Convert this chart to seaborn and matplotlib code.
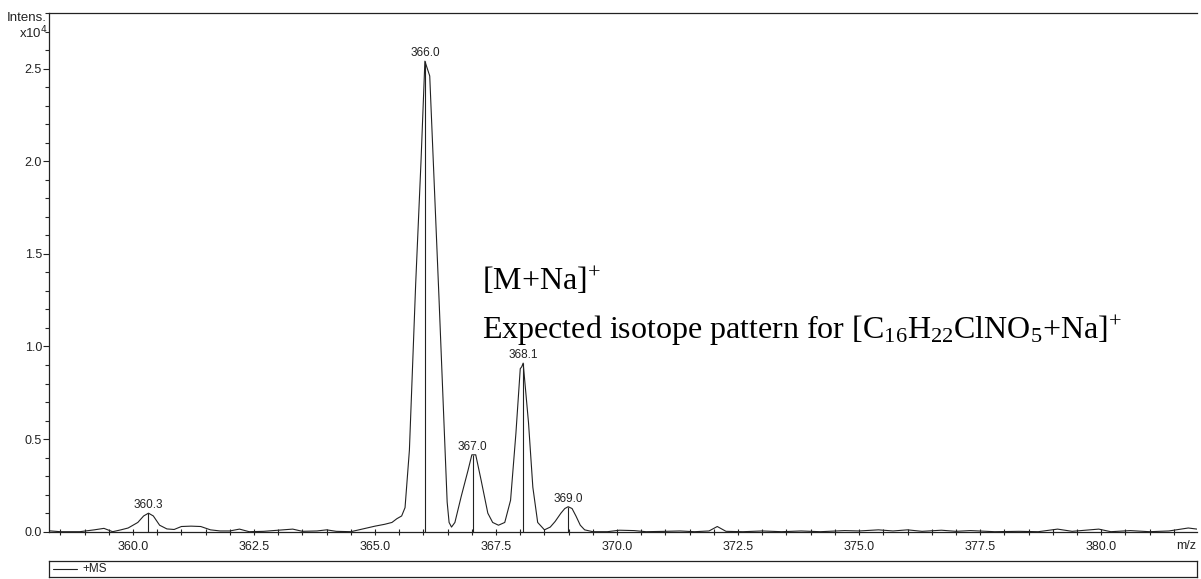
import numpy as np
import pandas as pd
import seaborn as sns
import matplotlib
matplotlib.use("Agg")
import matplotlib.pyplot as plt
from matplotlib.ticker import MultipleLocator, FormatStrFormatter

# ---- data (m/z, intensity x10^4) ----
mz = [358.26, 358.5, 358.9, 359.2, 359.4, 359.58, 359.75, 359.9, 360.1, 360.22,
      360.32, 360.42, 360.55, 360.7, 360.85, 361.0, 361.2, 361.4, 361.6, 361.8,
      362.0, 362.2, 362.4, 362.7, 362.9, 363.1, 363.3, 363.5, 363.8, 364.0,
      364.2, 364.5, 364.75, 365.0, 365.2, 365.35, 365.45, 365.55, 365.62, 365.71,
      365.84, 365.95, 366.03, 366.08, 366.13, 366.32, 366.43, 366.49, 366.53, 366.58,
      366.65, 366.78, 366.92, 367.0, 367.08, 367.19, 367.33, 367.43, 367.55, 367.68,
      367.8, 367.91, 368.0, 368.03, 368.06, 368.17, 368.26, 368.36, 368.50, 368.62,
      368.72, 368.84, 368.92, 368.99, 369.07, 369.15, 369.24, 369.33, 369.5, 369.8,
      370.05, 370.35, 370.6, 371.0, 371.3, 371.6, 371.9, 372.07, 372.25, 372.6,
      373.0, 373.4, 373.8, 374.2, 374.7, 375.0, 375.4, 375.7, 376.0, 376.3,
      376.7, 377.0, 377.3, 377.8, 378.3, 378.7, 379.1, 379.4, 379.95, 380.2,
      380.6, 381.0, 381.4, 381.8, 382.1]
intensity = [0.005, 0.0, 0.0, 0.01, 0.018, 0.0, 0.01, 0.02, 0.05, 0.085,
             0.10, 0.085, 0.035, 0.015, 0.012, 0.028, 0.03, 0.028, 0.01, 0.004,
             0.004, 0.014, 0.0, 0.002, 0.006, 0.01, 0.014, 0.002, 0.004, 0.01,
             0.002, 0.0, 0.015, 0.03, 0.04, 0.05, 0.07, 0.085, 0.13, 0.44,
             1.34, 2.0, 2.54, 2.50, 2.46, 1.27, 0.55, 0.16, 0.05, 0.025,
             0.05, 0.19, 0.33, 0.415, 0.415, 0.28, 0.10, 0.05, 0.035, 0.05,
             0.17, 0.53, 0.88, 0.89, 0.91, 0.59, 0.24, 0.05, 0.01, 0.025,
             0.055, 0.10, 0.125, 0.135, 0.125, 0.085, 0.035, 0.01, 0.0, 0.0,
             0.008, 0.006, 0.0, 0.002, 0.004, 0.0, 0.004, 0.028, 0.002, 0.0,
             0.004, 0.0, 0.004, 0.0, 0.006, 0.004, 0.01, 0.004, 0.01, 0.002,
             0.008, 0.002, 0.006, 0.0, 0.002, 0.0, 0.014, 0.002, 0.014, 0.0,
             0.006, 0.0, 0.004, 0.02, 0.01]

peak_mz = [360.32, 366.03, 367.02, 368.06, 368.99]
peak_int = [0.10, 2.54, 0.415, 0.91, 0.135]
peak_labels = ["360.3", "366.0", "367.0", "368.1", "369.0"]

x_ticks = [360.0, 362.5, 365.0, 367.5, 370.0, 372.5, 375.0, 377.5, 380.0]
y_ticks = [0.0, 0.5, 1.0, 1.5, 2.0, 2.5]

df = pd.DataFrame({"mz": mz, "intensity": intensity})

sns.set_theme(style="ticks")
plt.rcParams["font.family"] = ["Liberation Sans", "DejaVu Sans"]
plt.rcParams["mathtext.fontset"] = "custom"
plt.rcParams["mathtext.rm"] = "Liberation Serif"
plt.rcParams["mathtext.it"] = "Liberation Serif:italic"
plt.rcParams["mathtext.bf"] = "Liberation Serif:bold"
plt.rcParams["mathtext.default"] = "rm"

INK = "#222222"
W, H = 1201, 579
fig = plt.figure(figsize=(W / 100, H / 100), dpi=100)
fig.patch.set_facecolor("white")

ax = fig.add_axes([49 / W, (H - 531.7) / H, (1197 - 49) / W, (531.7 - 13) / H])
ax.set_facecolor("white")

sns.lineplot(data=df, x="mz", y="intensity", ax=ax, color=INK,
             linewidth=0.8, sort=False, estimator=None)
ax.vlines(peak_mz, 0, peak_int, color=INK, linewidth=0.8)
for xm, yi, lab in zip(peak_mz, peak_int, peak_labels):
    ax.text(xm, yi + 0.01, lab, ha="center", va="bottom", fontsize=8.5,
            color=INK)

ax.set_xlim(358.265, 381.98)
ax.set_ylim(0, 2.80)
ax.set_xticks(x_ticks)
ax.set_yticks(y_ticks)
ax.xaxis.set_minor_locator(MultipleLocator(0.5))
ax.yaxis.set_minor_locator(MultipleLocator(0.1))
ax.xaxis.set_major_formatter(FormatStrFormatter("%.1f"))
ax.yaxis.set_major_formatter(FormatStrFormatter("%.1f"))
ax.tick_params(axis="x", which="both", direction="inout", length=5, width=0.8,
               labelsize=9, colors=INK, pad=4)
ax.tick_params(axis="x", which="minor", length=4)
ax.tick_params(axis="y", which="major", direction="out", length=4, width=0.8,
               labelsize=9, colors=INK, pad=1)
ax.tick_params(axis="y", which="minor", direction="out", length=3, width=0.8)
for s in ax.spines.values():
    s.set_color(INK)
    s.set_linewidth(0.9)
ax.spines["right"].set_visible(False)
ax.set_xlabel("")
ax.set_ylabel("")

ax.text(381.75, -0.045, "m/z", ha="center", va="top", fontsize=9, color=INK,
        transform=ax.transData)

fig.text(47 / W, 1 - 18 / H, "Intens.", ha="right", va="center", fontsize=9.5,
         color=INK)
fig.text(48 / W, 1 - 33 / H, "x10$^{4}$", ha="right", va="center", fontsize=9.5,
         color=INK, math_fontfamily="dejavusans")

serif = ["Liberation Serif", "DejaVu Serif"]
ax.text(367.21, 1.306, r"[M+Na]$^{+}$", fontsize=23, family=serif,
        va="baseline", ha="left", color="black", math_fontfamily="custom")
ax.text(367.21, 1.04,
        r"Expected isotope pattern for [C$_{16}$H$_{22}$ClNO$_{5}$+Na]$^{+}$",
        fontsize=23, family=serif, va="baseline", ha="left", color="black",
        math_fontfamily="custom")

# legend strip
lax = fig.add_axes([49 / W, 2 / H, (1197 - 49) / W, 16 / H])
lax.set_xlim(0, 1148)
lax.set_ylim(0, 16)
lax.set_xticks([])
lax.set_yticks([])
for s in lax.spines.values():
    s.set_color(INK)
    s.set_linewidth(0.9)
lax.plot([4, 28], [8, 8], color=INK, linewidth=0.8)
lax.text(33, 8, "+MS", va="center", ha="left", fontsize=8.5, color=INK)

fig.savefig("out.png", dpi=100, facecolor="white")
